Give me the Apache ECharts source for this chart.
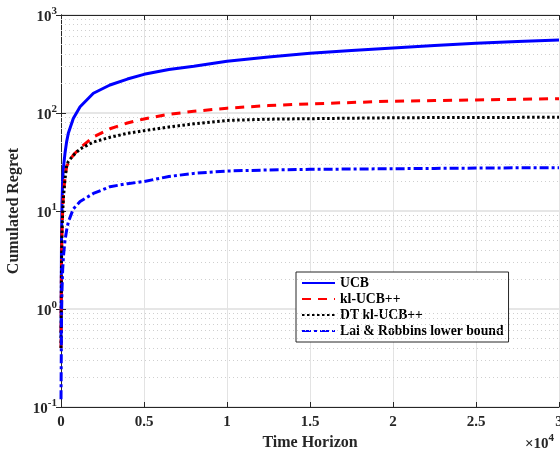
<!DOCTYPE html>
<html><head><meta charset="utf-8">
<script src="https://cdn.jsdelivr.net/npm/echarts@6/dist/echarts.min.js"></script>
<style>html,body{margin:0;padding:0;background:#fff}#c{width:560px;height:452px}</style>
</head><body><div id="c"></div>
<script>
const timeSteps  = [1, 30, 60, 100, 150, 240, 340, 440, 740, 1150, 1950, 2950, 4000, 5000, 6500, 8000, 10000, 12500, 15000, 17500, 20000, 22500, 25000, 27500, 30000];
const ucb        = [0.5, 5, 12, 20.7, 28, 38.8, 51, 62, 88, 116, 159, 193, 222, 248, 278, 300, 338, 372, 406, 435, 461, 488, 514, 536, 556];
const klUcbPP    = [0.4, 3, 6, 10, 15, 22, 28.3, 31, 37.2, 44, 57, 69, 79, 87, 97, 104, 112, 119, 124, 128, 132, 134, 136, 138, 140];
const dtKlUcb    = [0.4, 3, 6, 9.5, 14, 21, 29, 32, 37, 43, 50.5, 56.5, 62, 66, 72, 77.5, 84, 86.5, 87.5, 88.5, 89.5, 89.8, 90, 90.2, 90.5];
const laiRobbins = [0.12, 0.8, 1.56, 2.5, 3.5, 5, 6.4, 7.7, 10.5, 12.5, 15.1, 17.7, 19, 20, 22.5, 24.2, 25.6, 26.2, 26.6, 26.8, 27, 27.2, 27.4, 27.6, 27.7];
const seriesNames = ['UCB', 'kl-UCB++', 'DT kl-UCB++', 'Lai & Robbins lower bound'];
const xTickLabels = ['0', '0.5', '1', '1.5', '2', '2.5', '3'];
const xLabel = 'Time Horizon';
const yLabel = 'Cumulated Regret';
const xMultiplier = '×10';
const xMultiplierExp = '4';
const yMinorValues = [];
[0.1, 1, 10, 100].forEach(d => { for (let k = 2; k <= 9; k++) yMinorValues.push(+(d * k).toPrecision(3)); });

const FONT = '"Liberation Serif", "DejaVu Serif", serif';
const TXT = '#262626';
const pair = arr => timeSteps.map((t, i) => [t, arr[i]]);

const chart = echarts.init(document.getElementById('c'), null, {renderer: 'canvas'});
const commonLine = {type: 'line', showSymbol: false, symbol: 'none', smooth: false, xAxisIndex: 0, yAxisIndex: 0, z: 5};
chart.setOption({
  animation: false,
  backgroundColor: '#fff',
  grid: {left: 61, top: 15, width: 498, height: 392, show: false, containLabel: false, outerBoundsMode: 'none'},
  xAxis: [{
    type: 'value', min: 0, max: 30000, interval: 5000, position: 'bottom',
    name: xLabel, nameLocation: 'middle', nameGap: 26,
    nameTextStyle: {fontFamily: FONT, fontWeight: 'bold', fontSize: 16, color: TXT},
    axisLine: {show: true, lineStyle: {color: TXT, width: 1}},
    axisTick: {show: true, inside: true, length: 5, lineStyle: {color: TXT}},
    axisLabel: {formatter: (v) => xTickLabels[Math.round(v / 5000)], fontFamily: FONT, fontWeight: 'bold', fontSize: 15, color: TXT, margin: 8},
    splitLine: {show: true, lineStyle: {color: '#e3e3e3', width: 1}}
  }, {
    type: 'value', min: 0, max: 30000, interval: 5000, position: 'top',
    axisLine: {show: true, lineStyle: {color: TXT, width: 1}},
    axisTick: {show: true, inside: true, length: 5, lineStyle: {color: TXT}},
    axisLabel: {show: false}, splitLine: {show: false}
  }],
  yAxis: [{
    type: 'log', logBase: 10, min: 0.1, max: 1000, position: 'left',
    name: yLabel, nameLocation: 'middle', nameGap: 38, nameRotate: 90,
    nameTextStyle: {fontFamily: FONT, fontWeight: 'bold', fontSize: 16, color: TXT},
    axisLine: {show: true, lineStyle: {color: TXT, width: 1}},
    axisTick: {show: true, inside: true, length: 5, lineStyle: {color: TXT}},
    axisLabel: {
      formatter: (v) => '{b|10}{s|' + Math.round(Math.log10(v)) + '}',
      margin: 4,
      rich: {
        b: {fontFamily: FONT, fontWeight: 'bold', fontSize: 15, color: TXT, verticalAlign: 'bottom'},
        s: {fontFamily: FONT, fontWeight: 'bold', fontSize: 11, color: TXT, verticalAlign: 'top', padding: [0, 0, 8, 0]}
      }
    },
    splitLine: {show: true, lineStyle: {color: '#e6e6e6', width: 2}}
  }, {
    type: 'log', logBase: 10, min: 0.1, max: 1000, position: 'right',
    axisLine: {show: true, lineStyle: {color: TXT, width: 1}},
    axisTick: {show: true, inside: true, length: 5, lineStyle: {color: TXT}},
    axisLabel: {show: false}, splitLine: {show: false}
  }],
  legend: {
    left: 296, top: 272, orient: 'vertical',
    padding: [4, 5, 4, 5], itemGap: 2, itemWidth: 33, itemHeight: 12,
    backgroundColor: '#fff', borderColor: '#262626', borderWidth: 1,
    itemStyle: {opacity: 0},
    textStyle: {fontFamily: FONT, fontWeight: 'bold', fontSize: 13.7, color: '#000'},
    data: seriesNames
  },
  series: [
    Object.assign({}, commonLine, {name: seriesNames[0], data: pair(ucb), lineStyle: {color: '#0000ff', width: 3, type: 'solid'}, itemStyle: {color: '#0000ff'},
      markLine: {silent: true, symbol: 'none', label: {show: false}, animation: false,
        lineStyle: {color: '#cfcfcf', type: [1, 3], width: 1},
        data: yMinorValues.map(v => ({yAxis: v}))}}),
    Object.assign({}, commonLine, {name: seriesNames[1], data: pair(klUcbPP), lineStyle: {color: '#ff0000', width: 3, type: [9, 7]}, itemStyle: {color: '#ff0000'}}),
    Object.assign({}, commonLine, {name: seriesNames[2], data: pair(dtKlUcb), lineStyle: {color: '#000000', width: 3, type: [2.5, 2.5]}, itemStyle: {color: '#000000'}}),
    Object.assign({}, commonLine, {name: seriesNames[3], data: pair(laiRobbins), lineStyle: {color: '#0000ff', width: 3, type: [9, 3, 3, 3]}, itemStyle: {color: '#0000ff'}})
  ],
  graphic: [{
    type: 'text', right: 6, top: 433,
    style: {
      text: '{m|' + xMultiplier + '}{e|' + xMultiplierExp + '}',
      rich: {
        m: {fontFamily: FONT, fontWeight: 'bold', fontSize: 15, fill: TXT, verticalAlign: 'bottom'},
        e: {fontFamily: FONT, fontWeight: 'bold', fontSize: 11, fill: TXT, verticalAlign: 'top', padding: [0, 0, 8, 0]}
      }
    }
  }]
});
</script></body></html>
